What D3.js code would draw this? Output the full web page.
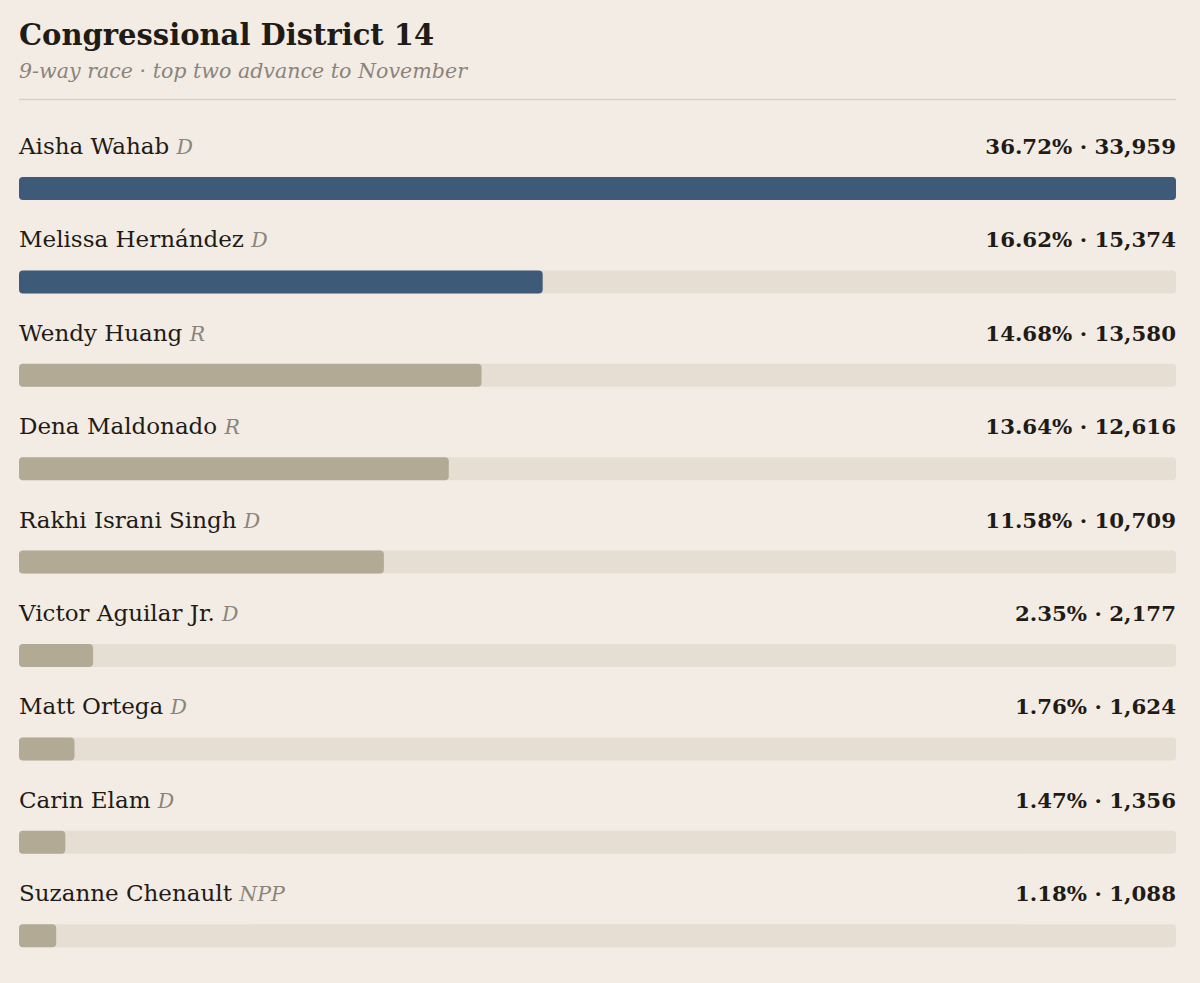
<!DOCTYPE html>
<html lang="en">
<head>
  <meta charset="UTF-8">
  <title>Congressional District 14</title>
  <style>
    html, body {
      margin: 0;
      padding: 0;
      background: #f3ece4;
    }
    svg text {
      font-family: "DejaVu Serif", "Liberation Serif", serif;
    }
  </style>
</head>
<body>
  <div id="chart"></div>

  <script src="https://d3js.org/d3.v7.min.js"></script>
  <script>
    // Results
    const candidates = ['Aisha Wahab', 'Melissa Hernández', 'Wendy Huang', 'Dena Maldonado',
      'Rakhi Israni Singh', 'Victor Aguilar Jr.', 'Matt Ortega', 'Carin Elam', 'Suzanne Chenault'];
    const parties = ['D', 'D', 'R', 'R', 'D', 'D', 'D', 'D', 'NPP'];
    const percents = [36.72, 16.62, 14.68, 13.64, 11.58, 2.35, 1.76, 1.47, 1.18];
    const votes = [33959, 15374, 13580, 12616, 10709, 2177, 1624, 1356, 1088];
    const advancing = 2; // top two advance

    const rows = candidates.map((name, i) => ({
      name, party: parties[i], pct: percents[i], votes: votes[i], rank: i
    }));

    const width = 1200;
    const height = 983;
    const left = 19;
    const right = 1176;

    const svg = d3.select('#chart')
      .append('svg')
      .attr('width', width)
      .attr('height', height);

    svg.append('rect')
      .attr('width', width)
      .attr('height', height)
      .attr('fill', '#f3ece4');

    // Header
    svg.append('text')
      .attr('x', left)
      .attr('y', 45)
      .attr('font-size', 29)
      .attr('font-weight', 700)
      .attr('fill', '#1f1b17')
      .text('Congressional District 14');

    svg.append('text')
      .attr('x', left)
      .attr('y', 78)
      .attr('font-size', 20.6)
      .attr('font-style', 'italic')
      .attr('fill', '#8a847c')
      .text('9-way race · top two advance to November');

    svg.append('line')
      .attr('x1', left)
      .attr('x2', right)
      .attr('y1', 99.5)
      .attr('y2', 99.5)
      .attr('stroke', '#d8d0c2')
      .attr('stroke-width', 1.5);

    // Scales
    const x = d3.scaleLinear()
      .domain([0, d3.max(percents)])
      .range([left, right]);

    const y = d3.scaleBand()
      .domain(candidates)
      .range([120, 120 + 93.4 * candidates.length])
      .paddingInner(0);

    const barH = 23;
    const barOffset = 57;
    const fmtVotes = d3.format(',');

    const row = svg.selectAll('g.row')
      .data(rows)
      .enter()
      .append('g')
      .attr('class', 'row')
      .attr('transform', (d) => `translate(0, ${y(d.name)})`);

    // Name + party
    const label = row.append('text')
      .attr('x', left)
      .attr('y', 34)
      .attr('font-size', 23)
      .attr('fill', '#1f1b17');
    label.append('tspan').text((d) => d.name + ' ');
    label.append('tspan')
      .attr('font-style', 'italic')
      .attr('fill', '#8a847c')
      .attr('font-size', 20.5)
      .text((d) => d.party);

    // Percent · votes
    row.append('text')
      .attr('x', right)
      .attr('y', 34)
      .attr('text-anchor', 'end')
      .attr('font-size', 21.3)
      .attr('font-weight', 700)
      .attr('fill', '#1f1b17')
      .text((d) => `${d.pct.toFixed(2)}% · ${fmtVotes(d.votes)}`);

    // Track
    row.append('rect')
      .attr('x', left)
      .attr('y', barOffset)
      .attr('width', x(d3.max(percents)) - left)
      .attr('height', barH)
      .attr('rx', 4)
      .attr('fill', '#e6ded2');

    // Bar
    row.append('rect')
      .attr('x', left)
      .attr('y', barOffset)
      .attr('width', (d) => x(d.pct) - left)
      .attr('height', barH)
      .attr('rx', 4)
      .attr('fill', (d) => d.rank < advancing ? '#3d5a78' : '#b2aa94');
  </script>
</body>
</html>
